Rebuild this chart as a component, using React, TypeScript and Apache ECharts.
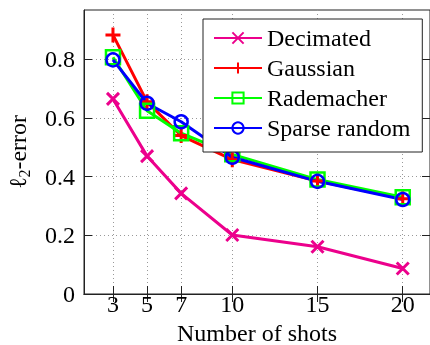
import React, { useEffect, useRef } from "react";
import * as echarts from "echarts";

const shots = [3, 5, 7, 10, 15, 20];
const decimated = [0.665, 0.47, 0.343, 0.201, 0.161, 0.087];
const gaussian = [0.883, 0.655, 0.54, 0.458, 0.385, 0.325];
const rademacher = [0.807, 0.625, 0.548, 0.476, 0.39, 0.33];
const sparseRandom = [0.798, 0.65, 0.587, 0.466, 0.384, 0.322];
const yTicks = [0, 0.2, 0.4, 0.6, 0.8];
const seriesNames = ["Decimated", "Gaussian", "Rademacher", "Sparse random"];

const FONT = "'Liberation Serif', 'Times New Roman', serif";
const FS = 24;

function mk(name: string, data: number[], color: string, symbol: string, size: number, fill: string, bw: number) {
  return {
    name,
    type: "line",
    data: shots.map((x, i) => [x, data[i]]),
    symbol,
    symbolSize: size,
    showSymbol: true,
    lineStyle: { color, width: 3 },
    itemStyle: { color: fill, borderColor: color, borderWidth: bw },
    emphasis: { disabled: true },
  };
}

export default function App() {
  const ref = useRef<HTMLDivElement>(null);
  useEffect(() => {
    if (!ref.current) return;
    const chart = echarts.init(ref.current, undefined, { renderer: "svg" });
    const tickStyle = { show: true, inside: true, length: 8, lineStyle: { color: "#222", width: 1 } };
    const splitStyle = { show: true, lineStyle: { color: "#999", width: 1, type: [1, 3] } };
    const xBase = { type: "value", min: 1.3, max: 21.6 };
    const yBase = { type: "value", min: 0, max: 0.968 };
    chart.setOption({
      animation: false,
      grid: {
        left: 84,
        right: 0,
        top: 10,
        bottom: 51,
        show: true,
        borderColor: "#222",
        borderWidth: 1,
        containLabel: false,
        outerBoundsMode: "none",
      },
      xAxis: [
        {
          ...xBase,
          position: "bottom",
          name: "Number of shots",
          nameLocation: "middle",
          nameGap: 28,
          nameTextStyle: { fontFamily: FONT, fontSize: FS, color: "#000", lineHeight: 20 },
          axisLine: { show: true, onZero: false, lineStyle: { color: "#222" } },
          axisTick: { ...tickStyle, customValues: shots },
          axisLabel: { customValues: shots, fontFamily: FONT, fontSize: FS, color: "#000", margin: 0, lineHeight: 20 },
          splitLine: splitStyle,
        },
        {
          ...xBase,
          position: "top",
          axisLine: { show: true, lineStyle: { color: "#222" } },
          axisTick: { ...tickStyle, customValues: shots },
          axisLabel: { show: false },
          splitLine: { show: false },
        },
      ],
      yAxis: [
        {
          ...yBase,
          position: "left",
          name: "{a|ℓ}{b|2}{a|-error}",
          nameLocation: "middle",
          nameGap: 52,
          nameTextStyle: {
            color: "#000",
            rich: {
              a: { fontFamily: FONT, fontSize: FS, color: "#000", lineHeight: 28, verticalAlign: "middle" },
              b: { fontFamily: FONT, fontSize: 16, color: "#000", lineHeight: 13, verticalAlign: "bottom" },
            },
          },
          axisLine: { show: true, lineStyle: { color: "#222" } },
          axisTick: { ...tickStyle, customValues: yTicks },
          axisLabel: { customValues: yTicks, fontFamily: FONT, fontSize: FS, color: "#000", margin: 9 },
          splitLine: splitStyle,
        },
        {
          ...yBase,
          position: "right",
          axisLine: { show: true, lineStyle: { color: "#222" } },
          axisTick: { ...tickStyle, customValues: yTicks },
          axisLabel: { show: false },
          splitLine: { show: false },
        },
      ],
      legend: {
        data: seriesNames,
        orient: "vertical",
        left: 203,
        top: 19,
        backgroundColor: "#fff",
        borderColor: "#222",
        borderWidth: 1,
        padding: [7, 12, 12, 10],
        itemWidth: 48,
        itemHeight: 14,
        itemGap: 6,
        textStyle: { fontFamily: FONT, fontSize: FS, color: "#000" },
      },
      series: [
        mk(seriesNames[0], decimated, "#ec008c", "path://M0,0L10,10M10,0L0,10", 12, "#ec008c", 3),
        mk(seriesNames[1], gaussian, "#ff0000", "path://M5,0L5,10M0,5L10,5", 15, "#ff0000", 3),
        mk(seriesNames[2], rademacher, "#00ff00", "rect", 14, "rgba(255,255,255,0)", 2.5),
        mk(seriesNames[3], sparseRandom, "#0000ff", "circle", 13, "rgba(255,255,255,0)", 2.5),
      ],
    });
    return () => chart.dispose();
  }, []);
  return <div ref={ref} style={{ position: "fixed", left: 0, top: 0, width: 430, height: 345 }} />;
}
